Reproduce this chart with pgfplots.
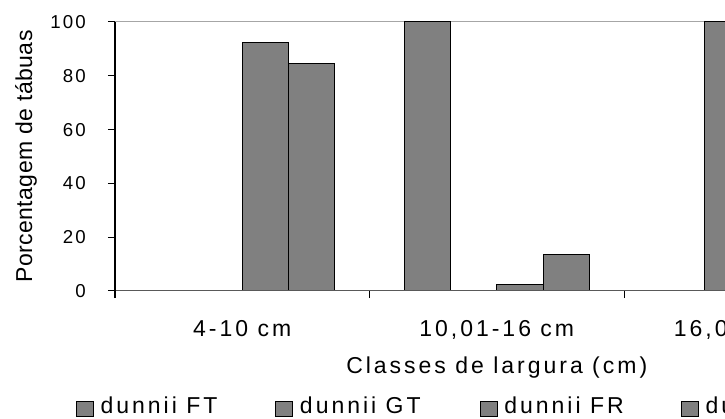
\documentclass[border=0pt]{standalone}
\usepackage{fontspec}
\setmainfont{Liberation Sans}
\newfontfamily\lsp[LetterSpace=13]{Liberation Sans}
\newfontfamily\lspy[LetterSpace=11]{Liberation Sans}
\newfontfamily\lspl[LetterSpace=2]{Liberation Sans}
\usepackage{pgfplots}
\pgfplotsset{compat=1.18}
\definecolor{bargray}{HTML}{808080}

\begin{document}
\begin{tikzpicture}
\begin{axis}[
    at={(86.25pt,95.25pt)}, anchor=south west,
    scale only axis,
    width=572.625pt, height=201.75pt,
    xmin=-0.5, xmax=2.5, ymin=0, ymax=100,
    axis lines*=left,
    axis on top,
    x axis line style={draw=black!65, line width=0.75pt},
    y axis line style={draw=black, line width=0.75pt},
    tick align=outside,
    major tick length=5.25pt,
    tick style={black, line width=0.75pt},
    ytick={0,20,...,100},
    xtick={-0.5,0.5,1.5,2.5},
    x tick label as interval,
    xticklabels={{4-10 cm},{10,01-16 cm},{16,01-22 cm}},
    /pgf/number format/assume math mode=true,
    yticklabel style={font=\fontsize{14}{14}\lspy, anchor=east, inner sep=0pt, xshift=-16.5pt},
    xticklabel style={font=\fontsize{17.25}{17.25}\lsp, anchor=base, inner sep=0pt, yshift=-28.5pt},
    xlabel={Classes de largura (cm)},
    ylabel={Porcentagem de tábuas},
    xlabel style={font=\fontsize{17.25}{17.25}\lsp, at={(axis description cs:0.5,-0.306)}, anchor=base, inner sep=0pt},
    ylabel style={font=\fontsize{17.25}{17.25}\lspl, at={(axis description cs:-0.131,0.5)}, anchor=north, inner sep=0pt},
    ybar, bar width=0.1818,
    legend columns=4,
    legend cell align=left,
    legend style={at={(axis description cs:-0.0511,-0.4309)}, anchor=west,
        draw=none, fill=none, inner sep=0pt, outer sep=0pt, column sep=0pt,
        nodes={inner sep=0pt},
        font=\fontsize{17.25}{17.25}\lsp,
        /tikz/every odd column/.append style={column sep=5pt}},
    legend image code/.code={\draw[#1] (0pt,-7.2pt) rectangle (12.75pt,3.5pt);},
]
\draw[black!35, line width=0.75pt] (axis cs:-0.5,100) -- (axis cs:2.5,100);

\addplot[fill=bargray, draw=black, line width=0.75pt, bar shift=-0.2727]
    coordinates {(0,0) (1,100) (2,0)};
\addlegendentry{\makebox[131pt][l]{dunnii FT}}
\addplot[fill=bargray, draw=black, line width=0.75pt, bar shift=-0.0909]
    coordinates {(0,0) (1,0) (2,100)};
\addlegendentry{\makebox[134.8pt][l]{dunnii GT}}
\addplot[fill=bargray, draw=black, line width=0.75pt, bar shift=0.0909]
    coordinates {(0,92.5) (1,2.5) (2,5)};
\addlegendentry{\makebox[132.5pt][l]{dunnii FR}}
\addplot[fill=bargray, draw=black, line width=0.75pt, bar shift=0.2727]
    coordinates {(0,84.5) (1,13.5) (2,2)};
\addlegendentry{dunnii GR}
\end{axis}
\pgfresetboundingbox
\path[use as bounding box] (0,0) rectangle (543.75pt,313.5pt);
\end{tikzpicture}
\end{document}
